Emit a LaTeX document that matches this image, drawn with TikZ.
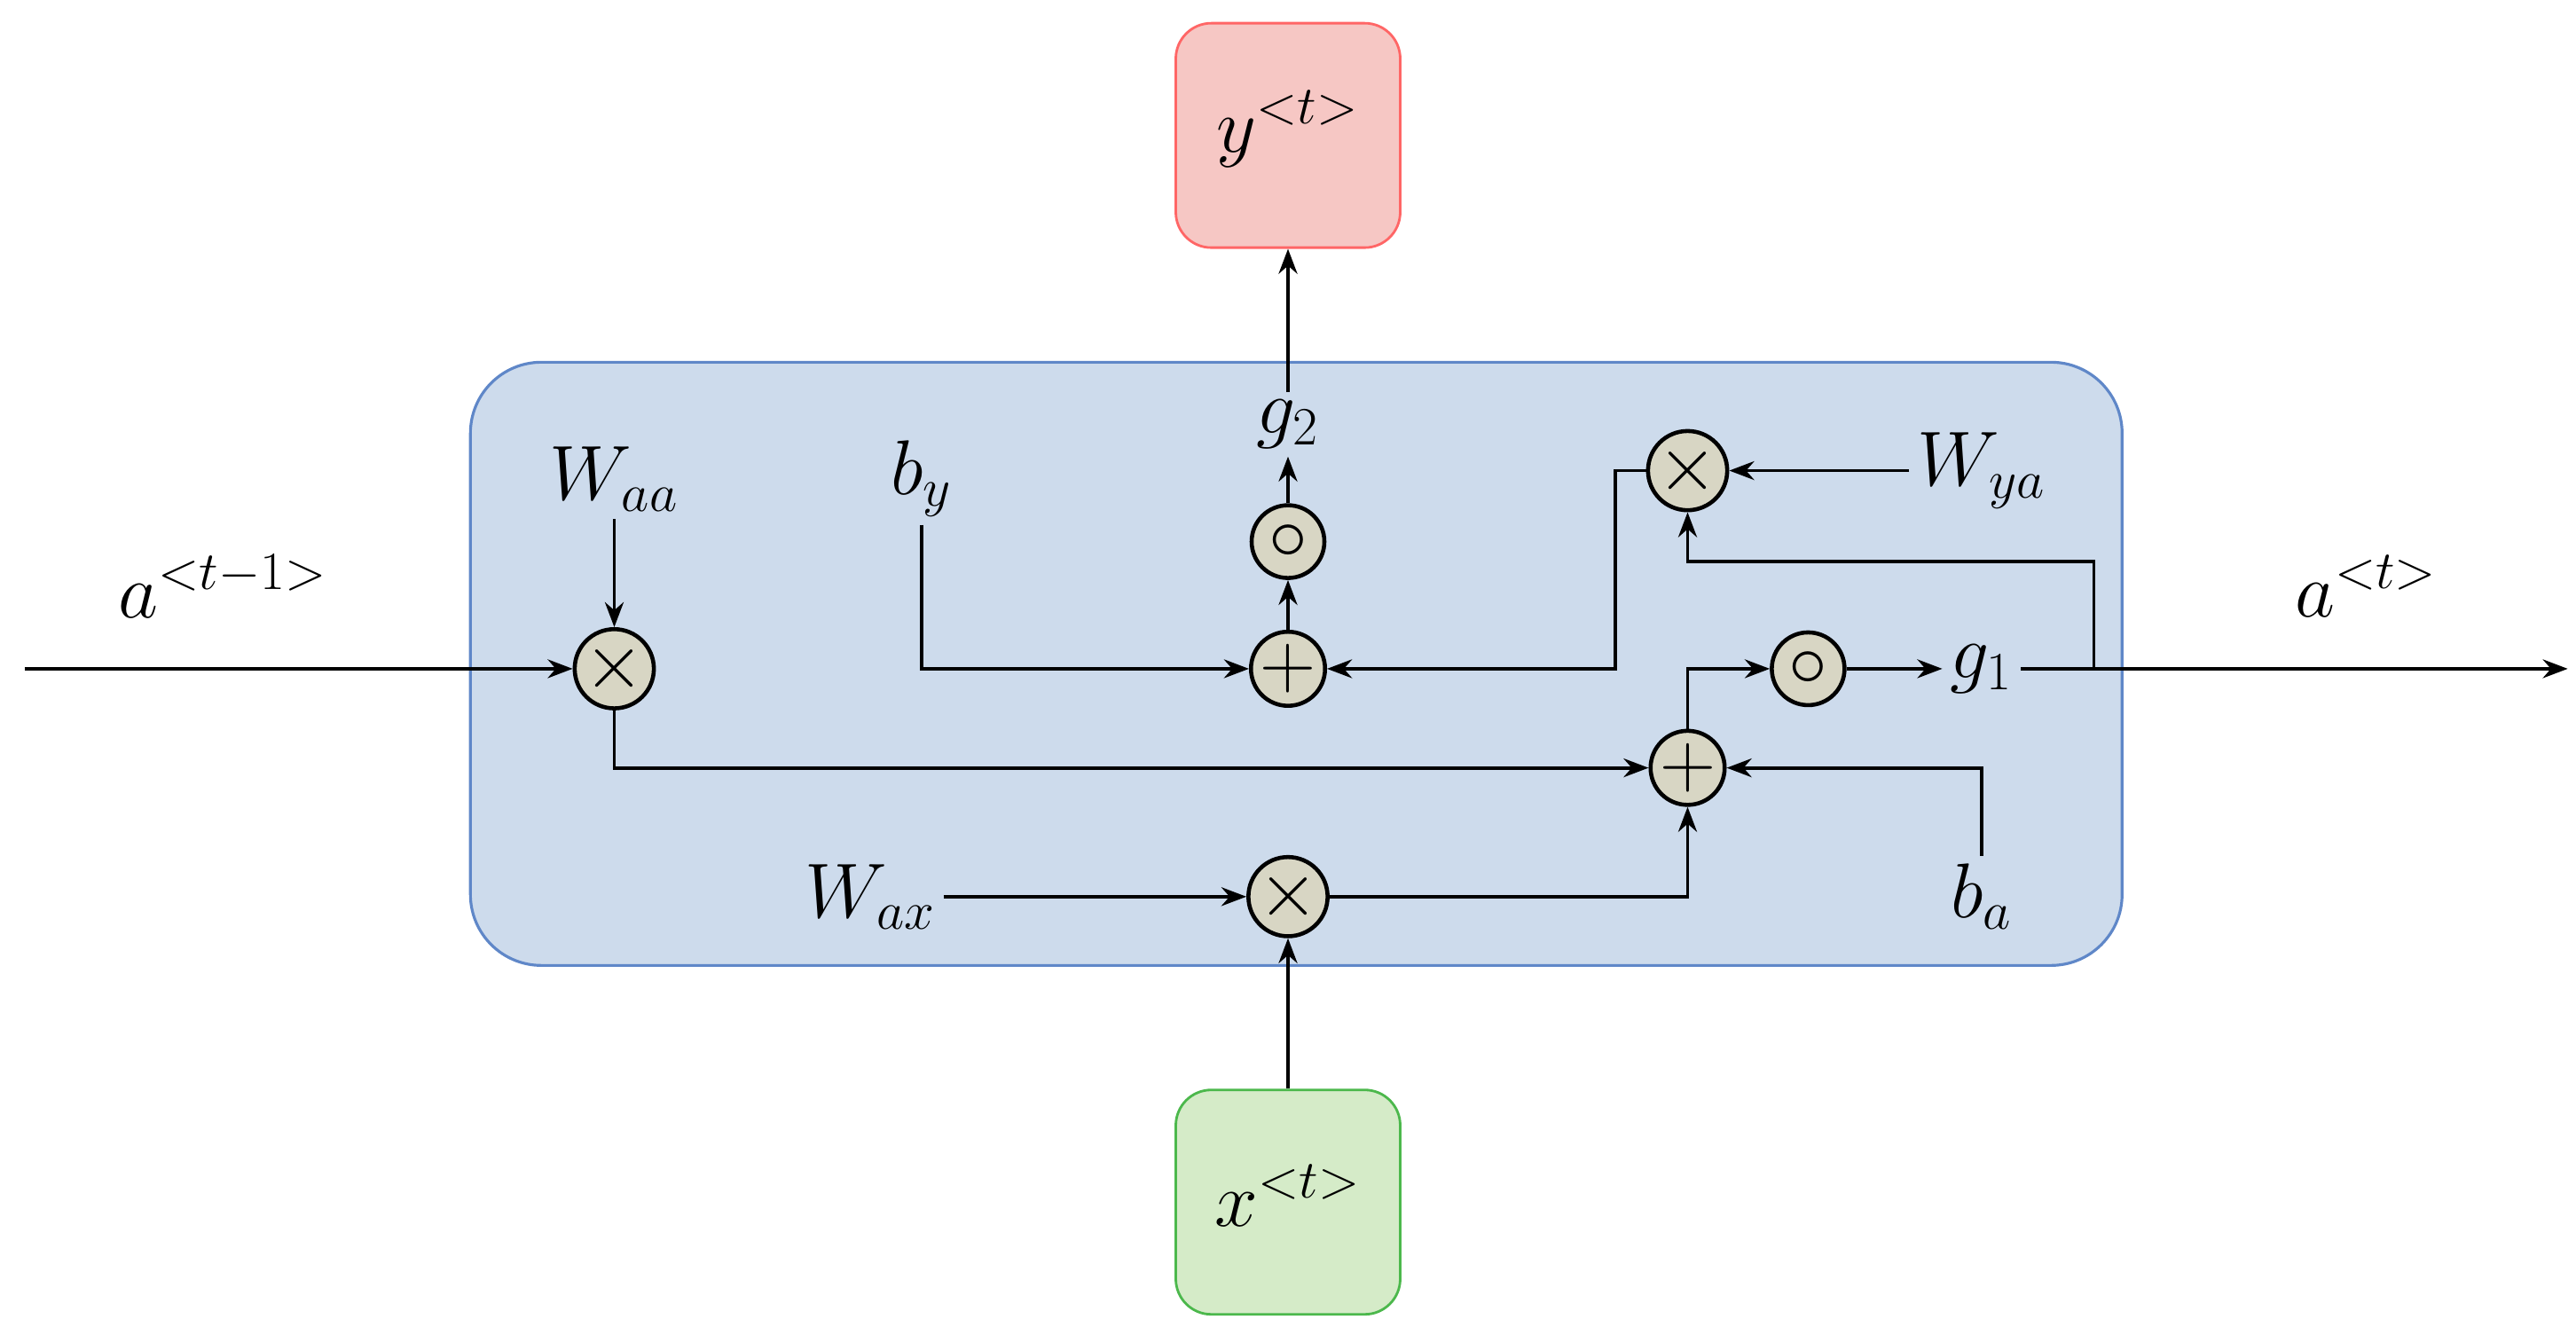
\documentclass[tikz,border=0pt]{standalone}
\usetikzlibrary{arrows.meta}
\begin{document}
\begin{tikzpicture}[x=0.018615cm,y=-0.018615cm,
  line width=1.1pt,
  >={Stealth[length=8pt,width=6pt]},
  op/.style={circle,draw,fill=opfill,minimum size=0.82cm,inner sep=0pt,line width=1.3pt,font=\fontsize{24}{24}\selectfont},
  lbl/.style={font=\fontsize{23}{28}\selectfont,inner sep=2pt},
  box/.style={draw,rounded corners=0.4cm,minimum width=2.53cm,minimum height=2.53cm,line width=0.8pt}]
\definecolor{opfill}{RGB}{216,214,196}
\definecolor{cellfill}{RGB}{205,219,236}
\definecolor{cellbd}{RGB}{95,135,200}
\useasboundingbox (0,0) rectangle (1560,808);
\node[draw=cellbd,fill=cellfill,rounded corners=0.8cm,line width=0.9pt,minimum width=18.62cm,minimum height=6.8cm] (cell) at (785,402) {};
\node[box,draw=red!60,fill={rgb,255:red,246;green,199;blue,196}] (y) at (780,82) {};
\node[lbl] at (780,78) {$y^{<t>}$};
\node[box,draw=green!60!black!70,fill={rgb,255:red,213;green,235;blue,200}] (x) at (780,728) {};
\node[lbl] at (780,724) {$x^{<t>}$};
% ops
\node[op] (m1) at (372,405) {$\times$};
\node[op] (p1) at (780,405) {$+$};
\node[op] (c1) at (780,328) {$\circ$};
\node[op] (m2) at (1022,285) {$\times$};
\node[op] (c2) at (1095,405) {$\circ$};
\node[op] (p2) at (1022,465) {$+$};
\node[op] (m3) at (780,543) {$\times$};
% labels
\node[lbl] (waa) at (372,290) {$W_{aa}$};
\node[lbl] (by) at (558,290) {$b_y$};
\node[lbl] (g2) at (780,257) {$g_2$};
\node[lbl] (wya) at (1200,285) {$W_{ya}$};
\node[lbl] (g1) at (1200,405) {$g_1$};
\node[lbl] (ba) at (1200,543) {$b_a$};
\node[lbl] (wax) at (527,543) {$W_{ax}$};
\node[lbl] at (135,355) {$a^{<t-1>}$};
\node[lbl] at (1433,355) {$a^{<t>}$};
\coordinate (in) at (15,405);
\coordinate (out) at (1555,405);
% connectors
\draw[->] (in) -- (m1);
\draw[->] (waa) -- (m1);
\draw[->] (m1) |- (p2);
\draw[->] (wax) -- (m3);
\draw[->] (x) -- (m3);
\draw[->] (m3) -| (p2);
\draw[->] (ba.north) |- (p2);
\draw[->] (p2) |- (c2);
\draw[->] (c2) -- (g1);
\draw[->] (g1) -- (out);
\draw[->] (1268,405) |- (1022,340) -- (m2);
\draw[->] (wya) -- (m2);
\draw[->] (m2) -| (978,405) -- (p1);
\draw[->] (by) |- (p1);
\draw[->] (p1) -- (c1);
\draw[->] (c1) -- (g2);
\draw[->] (g2) -- (y);
\end{tikzpicture}
\end{document}
